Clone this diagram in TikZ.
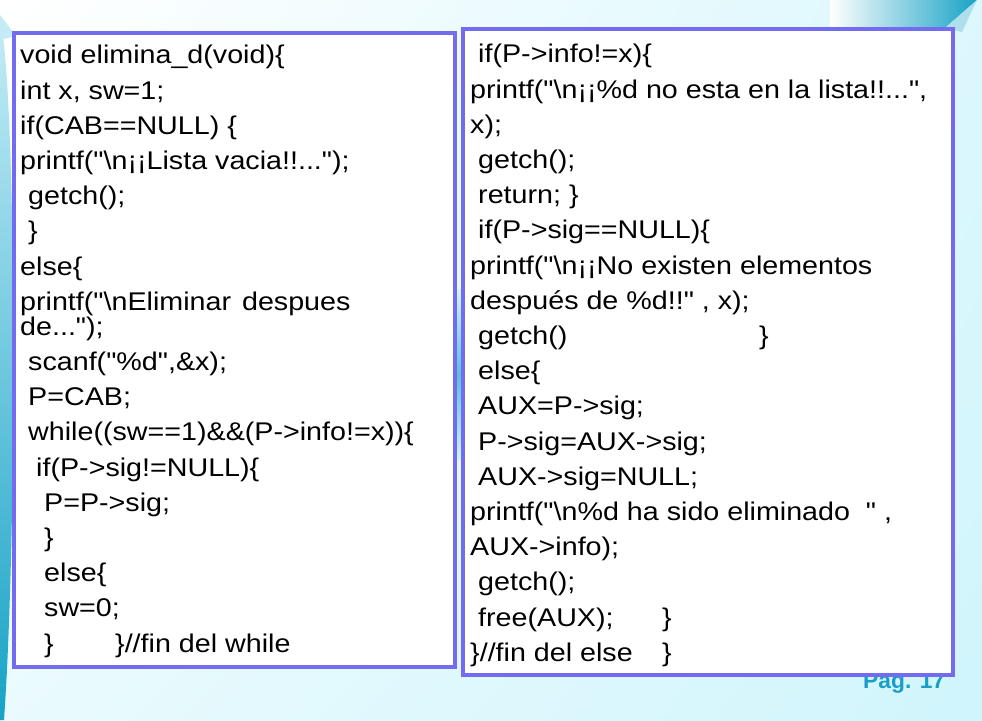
\documentclass[tikz,border=0pt]{standalone}
\usepackage{fontspec}
\setmainfont{Liberation Sans}[FakeStretch=1.12, Ligatures=TeXOff]
\newfontfamily\pagefont{Liberation Sans}
\usepackage{tikz}
\usepackage{xcolor}
\usetikzlibrary{shadings}
\definecolor{box-border}{RGB}{116,108,240}
\definecolor{bg-cyan}{RGB}{208,245,252}
\definecolor{band-teal}{RGB}{24,163,198}
\definecolor{swoosh-light}{RGB}{196,236,246}
\definecolor{page-teal}{RGB}{26,158,200}
\tikzset{
    code-box/.style = {draw=box-border, fill=white, line width=4pt, rectangle, inner sep=0pt, anchor=south west},
    code-text/.style = {inner sep=0pt, anchor=base west, font=\fontsize{25.6}{35.2}\selectfont},
    page-label/.style = {text=page-teal, font=\pagefont\bfseries\fontsize{22.8}{22.8}\selectfont, inner sep=0pt, anchor=base west},
}

\begin{document}
\begin{tikzpicture}[x=1pt, y=1pt]
\useasboundingbox (0,0) rectangle (982,720);
% background of the slide
\shade[upper left=white, upper right=bg-cyan!75, lower left=bg-cyan!45, lower right=bg-cyan] (0,0) rectangle (982,720);
\shade[top color=swoosh-light, bottom color=band-teal] (0,700) .. controls (16,640) and (18,200) .. (4,0) -- (0,0) -- cycle;
\fill[swoosh-light] (0,705) -- (0,680) -- (16,684) -- cycle;
\shade[left color=white, right color=band-teal] (830,720) -- (977,720) -- (945,692) -- (830,692) -- cycle;
\fill[band-teal!35] (945,692) -- (977,720) -- (962,688) -- cycle;
\shade[top color=bg-cyan, bottom color=bg-cyan, middle color=band-teal!70] (452,260) rectangle (462,430);

\node[page-label] (page) at (863,31) {Pag. 17};

% the two code boxes
\node[code-box, minimum width=441pt, minimum height=634pt] (left-box) at (12,51) {};
\node[code-box, minimum width=490pt, minimum height=646pt] (right-box) at (461,43) {};

\node[code-text] (left-code) at ([xshift=8pt, yshift=-33pt]left-box.north west) {\begin{minipage}[t]{425pt}
void elimina\_d(void)\{\\
int x, sw=1;\\
if(CAB==NULL) \{\\
printf("\textbackslash n¡¡Lista vacia!!...");\\
\hspace*{8pt}getch();\\
\hspace*{8pt}\}\\
else\{\\
printf("\textbackslash nEliminar\hspace{3pt} despues\\[-10.2pt]
de...");\\
\hspace*{8pt}scanf("\%d",\&x);\\
\hspace*{8pt}P=CAB;\\
\hspace*{8pt}while((sw==1)\&\&(P->info!=x))\{\\
\hspace*{16pt}if(P->sig!=NULL)\{\\
\hspace*{24pt}P=P->sig;\\
\hspace*{24pt}\}\\
\hspace*{24pt}else\{\\
\hspace*{24pt}sw=0;\\
\hspace*{24pt}\makebox[71pt][l]{\}}\}//fin del while
\end{minipage}};

\node[code-text] (right-code) at ([xshift=9pt, yshift=-36pt]right-box.north west) {\begin{minipage}[t]{475pt}
\hspace*{8pt}if(P->info!=x)\{\\
printf("\textbackslash n¡¡\%d no esta en la lista!!...",\\
x);\\
\hspace*{8pt}getch();\\
\hspace*{8pt}return; \}\\
\hspace*{8pt}if(P->sig==NULL)\{\\
printf("\textbackslash n¡¡No existen elementos\\
después de \%d!!" , x);\\
\hspace*{8pt}\makebox[281pt][l]{getch()}\}\\
\hspace*{8pt}else\{\\
\hspace*{8pt}AUX=P->sig;\\
\hspace*{8pt}P->sig=AUX->sig;\\
\hspace*{8pt}AUX->sig=NULL;\\
printf("\textbackslash n\%d ha sido eliminado\ \ " ,\\
AUX->info);\\
\hspace*{8pt}getch();\\
\hspace*{8pt}\makebox[184pt][l]{free(AUX);}\}\\
\makebox[192pt][l]{\}//fin del else}\}
\end{minipage}};
\end{tikzpicture}
\end{document}
